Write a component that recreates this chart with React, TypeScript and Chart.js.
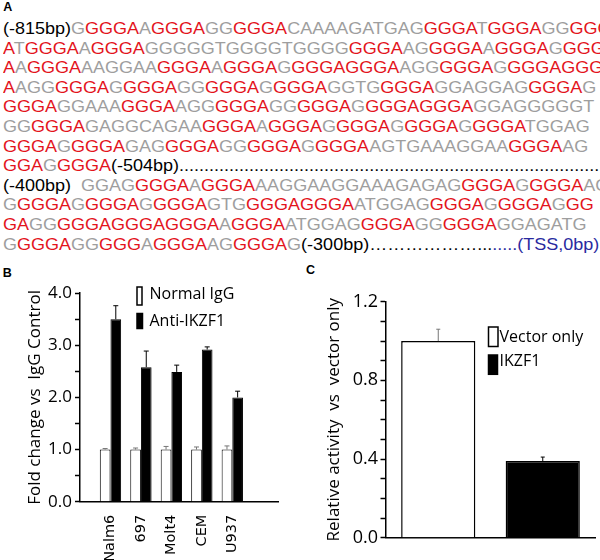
import React, { useEffect, useRef } from 'react';
import { Chart, registerables } from 'chart.js';

Chart.register(...registerables);

// ---------------- Panel A: promoter sequence (color key + text) ----------------
const seqColors: Record<string, string> = { r: '#e3141c', g: '#9e9e9e', k: '#000000', b: '#2a2aa0' };
const seqLines: string[] = [
  'k(-815bp)|gG|rGGGA|gA|rGGGA|gGG|rGGGA|gCAAAAGATGAG|rGGGA|gT|rGGGA|gGG|rGGG',
  'rA|gT|rGGGA|gA|rGGGA|gGGGGGTGGGGTGGGG|rGGGA|gAG|rGGGA|gA|rGGGA|gG|rGGGG',
  'rA|gA|rGGGA|gAAGGAA|rGGGA|gA|rGGGA|gG|rGGGAGGGA|gAGG|rGGGA|gG|rGGGAGGG',
  'rA|gAGG|rGGGA|gG|rGGGA|gGG|rGGGA|gG|rGGGA|gGGTG|rGGGA|gGGAGGAG|rGGGA|gG',
  'rGGGA|gGGAAA|rGGGA|gAGG|rGGGA|gGG|rGGGA|gG|rGGGAGGGA|gGGAGGGGGT',
  'gGG|rGGGA|gGAGGCAGAA|rGGGA|gA|rGGGA|gG|rGGGA|gG|rGGGA|gG|rGGGA|gTGGAG',
  'rGGGA|gG|rGGGA|gGAG|rGGGA|gGG|rGGGA|gG|rGGGA|gAGTGAAAGGAA|rGGGA|gAG',
  'rGGA|gG|rGGGA|k(-504bp)|k' + '.'.repeat(90),
  'k(-400bp)  |gGGAG|rGGGA|gA|rGGGA|gAAGGAAGGAAAGAGAG|rGGGA|gG|rGGGA|gAG',
  'gG|rGGGA|gG|rGGGA|gG|rGGGA|gGTG|rGGGAGGGA|gATGGAG|rGGGA|gG|rGGGA|gG|rGG',
  'rGA|gGG|rGGGAGGGAGGGA|gA|rGGGA|gATGGAG|rGGGA|gGG|rGGGA|gGGAGATG',
  'gG|rGGGA|gGG|rGGG|gA|rGGGA|gAG|rGGGA|gG|k(-300bp)|k' + '\u2026'.repeat(6) + '...|b.....|b(TSS,0bp)',
];

// ---------------- Panel B ----------------
const cellLines = ['Nalm6', '697', 'Molt4', 'CEM', 'U937'];
const seriesB = ['Normal IgG', 'Anti-IKZF1'];
const normalIgG = [1.0, 1.0, 1.0, 1.0, 1.0];
const normalIgGErr = [0.02, 0.03, 0.06, 0.05, 0.07];
const antiIKZF1 = [3.5, 2.58, 2.49, 2.92, 2.0];
const antiIKZF1Err = [0.26, 0.31, 0.13, 0.05, 0.12];
const yLabelB = 'Fold change vs  IgG Control';

// ---------------- Panel C ----------------
const groupsC = ['Vector only', 'IKZF1'];
const activityC = [1.0, 0.39];
const activityErrC = [0.06, 0.02];
const yLabelC = 'Relative activity  vs  vector only';

// ---------------- plugins ----------------
const errorBarPlugin = {
  id: 'errorBars',
  afterDatasetsDraw(chart: any, _args: any, opts: any) {
    const ctx = chart.ctx;
    chart.data.datasets.forEach((ds: any, di: number) => {
      const meta = chart.getDatasetMeta(di);
      const yScale = chart.scales[meta.yAxisID];
      meta.data.forEach((bar: any, i: number) => {
        const err = ds.errors ? ds.errors[i] : 0;
        if (!err) return;
        const raw = ds.data[i];
        const v = typeof raw === 'number' ? raw : raw.y;
        const y0 = yScale.getPixelForValue(v);
        const y1 = yScale.getPixelForValue(v + err);
        const col = Array.isArray(ds.errorColor) ? ds.errorColor[i] : ds.errorColor;
        ctx.save();
        ctx.strokeStyle = col;
        ctx.lineWidth = 1;
        ctx.beginPath();
        ctx.moveTo(bar.x, y0);
        ctx.lineTo(bar.x, y1);
        ctx.moveTo(bar.x - opts.cap, y1);
        ctx.lineTo(bar.x + opts.cap, y1);
        ctx.stroke();
        ctx.restore();
      });
    });
  },
};

const boxLegendPlugin = {
  id: 'boxLegend',
  afterDraw(chart: any, _args: any, opts: any) {
    const ctx = chart.ctx;
    (opts.items || []).forEach((it: any) => {
      ctx.save();
      ctx.fillStyle = it.fill;
      ctx.fillRect(it.x, it.y, it.w, it.h);
      ctx.strokeStyle = '#000';
      ctx.lineWidth = 1.5;
      ctx.strokeRect(it.x, it.y, it.w, it.h);
      ctx.fillStyle = '#000';
      ctx.font = opts.font;
      ctx.textBaseline = 'alphabetic';
      ctx.textAlign = 'left';
      ctx.fillText(it.text, it.tx, it.ty);
      ctx.restore();
    });
  },
};

const axisFont = '"Open Sans", "Liberation Sans", sans-serif';

function ChartB() {
  const ref = useRef<HTMLCanvasElement>(null);
  useEffect(() => {
    const chart = new Chart(ref.current as HTMLCanvasElement, {
      type: 'bar',
      data: {
        datasets: [
          {
            label: seriesB[0],
            data: normalIgG.map((y, i) => ({ x: i + 1, y })),
            backgroundColor: '#ffffff',
            borderColor: '#000000',
            borderWidth: 1,
            categoryPercentage: 0.7,
            barPercentage: 1.0,
            errors: normalIgGErr,
            errorColor: '#777777',
          },
          {
            label: seriesB[1],
            data: antiIKZF1.map((y, i) => ({ x: i + 1, y })),
            backgroundColor: '#000000',
            borderColor: '#000000',
            borderWidth: 1,
            categoryPercentage: 0.7,
            barPercentage: 1.0,
            errors: antiIKZF1Err,
            errorColor: '#000000',
          },
        ],
      } as any,
      options: {
        responsive: false,
        animation: false,
        layout: { padding: { left: 20, right: 22, top: 11.7, bottom: 0 } },
        plugins: {
          legend: { display: false },
          tooltip: { enabled: false },
          errorBars: { cap: 2.5 },
          boxLegend: {
            font: '16px "Open Sans", sans-serif',
            items: [
              { text: seriesB[0], fill: '#ffffff', x: 137, y: 7, w: 5, h: 18, tx: 149.5, ty: 18.5 },
              { text: seriesB[1], fill: '#000000', x: 137, y: 33.5, w: 5.5, h: 15, tx: 149.5, ty: 45.7 },
            ],
          },
        },
        scales: {
          x: {
            type: 'linear',
            min: 0,
            max: 6.5,
            offset: false,
            grid: { display: false },
            border: { display: true, color: '#000', width: 1.5 },
            afterBuildTicks: (s: any) => {
              s.ticks = cellLines.map((_, i) => ({ value: i + 1 }));
            },
            afterFit: (s: any) => {
              s.height = 58.3;
            },
            ticks: {
              autoSkip: false,
              minRotation: 90,
              maxRotation: 90,
              padding: 5,
              color: '#000',
              font: { family: '"DejaVu Sans", sans-serif', size: 14.5 },
              callback: (v: any) => cellLines[Math.round(Number(v)) - 1] ?? '',
            },
          },
          y: {
            min: 0,
            max: 4,
            grid: { drawOnChartArea: false, drawTicks: true, tickLength: 5, tickColor: '#000', tickWidth: 1.5 },
            border: { display: true, color: '#000', width: 1.5 },
            afterFit: (s: any) => {
              s.width = 60;
            },
            ticks: {
              stepSize: 0.5,
              autoSkip: false,
              padding: 3,
              color: '#000',
              font: { family: axisFont, size: 17 },
              callback: (v: any) => {
                const n = Number(v);
                return Math.abs(n - Math.round(n)) < 1e-6 ? n.toFixed(1) : '';
              },
            },
            title: {
              display: true,
              text: yLabelB,
              color: '#000',
              font: { family: axisFont, size: 17 },
              padding: { top: 5.3, bottom: 0 },
            },
          },
        },
      } as any,
      plugins: [errorBarPlugin, boxLegendPlugin] as any,
    });
    return () => chart.destroy();
  }, []);
  return <canvas ref={ref} width={300} height={280} style={{ display: 'block' }} />;
}

function ChartC() {
  const ref = useRef<HTMLCanvasElement>(null);
  useEffect(() => {
    const chart = new Chart(ref.current as HTMLCanvasElement, {
      type: 'bar',
      data: {
        labels: groupsC,
        datasets: [
          {
            label: 'Relative activity',
            data: activityC,
            backgroundColor: ['#ffffff', '#000000'],
            borderColor: '#000000',
            borderWidth: 1.5,
            categoryPercentage: 1.0,
            barPercentage: 0.71,
            errors: activityErrC,
            errorColor: ['#777777', '#000000'],
          },
        ],
      } as any,
      options: {
        responsive: false,
        animation: false,
        layout: { padding: { left: 18, right: 5, top: 21.7, bottom: 0 } },
        plugins: {
          legend: { display: false },
          tooltip: { enabled: false },
          errorBars: { cap: 2 },
          boxLegend: {
            font: '16px "Open Sans", sans-serif',
            items: [
              { text: groupsC[0], fill: '#ffffff', x: 188.5, y: 47, w: 9.5, h: 19.5, tx: 199.5, ty: 61.7 },
              { text: groupsC[1], fill: '#000000', x: 188.5, y: 75, w: 9, h: 19.3, tx: 199.5, ty: 85.7 },
            ],
          },
        },
        scales: {
          x: {
            type: 'category',
            offset: true,
            grid: { display: false },
            border: { display: true, color: '#000', width: 1.5 },
            ticks: { display: false },
            afterFit: (s: any) => {
              s.height = 22.3;
            },
          },
          y: {
            min: 0,
            max: 1.2,
            grid: { drawOnChartArea: false, drawTicks: true, tickLength: 5.5, tickColor: '#000', tickWidth: 1.5 },
            border: { display: true, color: '#000', width: 1.5 },
            afterFit: (s: any) => {
              s.width = 68;
            },
            ticks: {
              stepSize: 0.1,
              autoSkip: false,
              padding: 2.5,
              color: '#000',
              font: { family: axisFont, size: 18 },
              callback: (v: any) => {
                const r = Math.round(Number(v) * 10);
                return r % 4 === 0 ? (r / 10).toFixed(1) : '';
              },
            },
            title: {
              display: true,
              text: yLabelC,
              color: '#000',
              font: { family: axisFont, size: 17 },
              padding: { top: 5.8, bottom: 0 },
            },
          },
        },
      } as any,
      plugins: [errorBarPlugin, boxLegendPlugin] as any,
    });
    return () => chart.destroy();
  }, []);
  return <canvas ref={ref} width={300} height={280} style={{ display: 'block' }} />;
}

const seqFont = '"Liberation Sans", Arial, sans-serif';

function panelLabel(text: string, left: number, top: number) {
  return (
    <div
      style={{
        position: 'absolute',
        left,
        top,
        fontFamily: seqFont,
        fontWeight: 'bold',
        fontSize: 12.5,
        lineHeight: '12.5px',
        color: '#000',
      }}
    >
      {text}
    </div>
  );
}

export default function App() {
  return (
    <div
      style={{
        position: 'absolute',
        left: 0,
        top: 0,
        width: 600,
        height: 560,
        background: '#ffffff',
        overflow: 'hidden',
      }}
    >
      {panelLabel('A', 3.3, 1.1)}
      {seqLines.map((line, i) => (
        <div
          key={i}
          style={{
            position: 'absolute',
            left: 2.5,
            top: 18.9 + i * 19.6,
            height: 19.8,
            lineHeight: '19.8px',
            fontFamily: seqFont,
            fontSize: 16.5,
            whiteSpace: 'pre',
            transform: 'scaleX(1.0909)',
            transformOrigin: '0 0',
          }}
        >
          {line.split('|').map((seg, j) => (
            <span key={j} style={{ color: seqColors[seg[0]] }}>
              {seg.slice(1)}
            </span>
          ))}
        </div>
      ))}
      {panelLabel('B', 2.8, 266.7)}
      {panelLabel('C', 306, 264.4)}
      <div style={{ position: 'absolute', left: 0, top: 280, width: 300, height: 280 }}>
        <ChartB />
      </div>
      <div style={{ position: 'absolute', left: 300, top: 280, width: 300, height: 280 }}>
        <ChartC />
      </div>
    </div>
  );
}
